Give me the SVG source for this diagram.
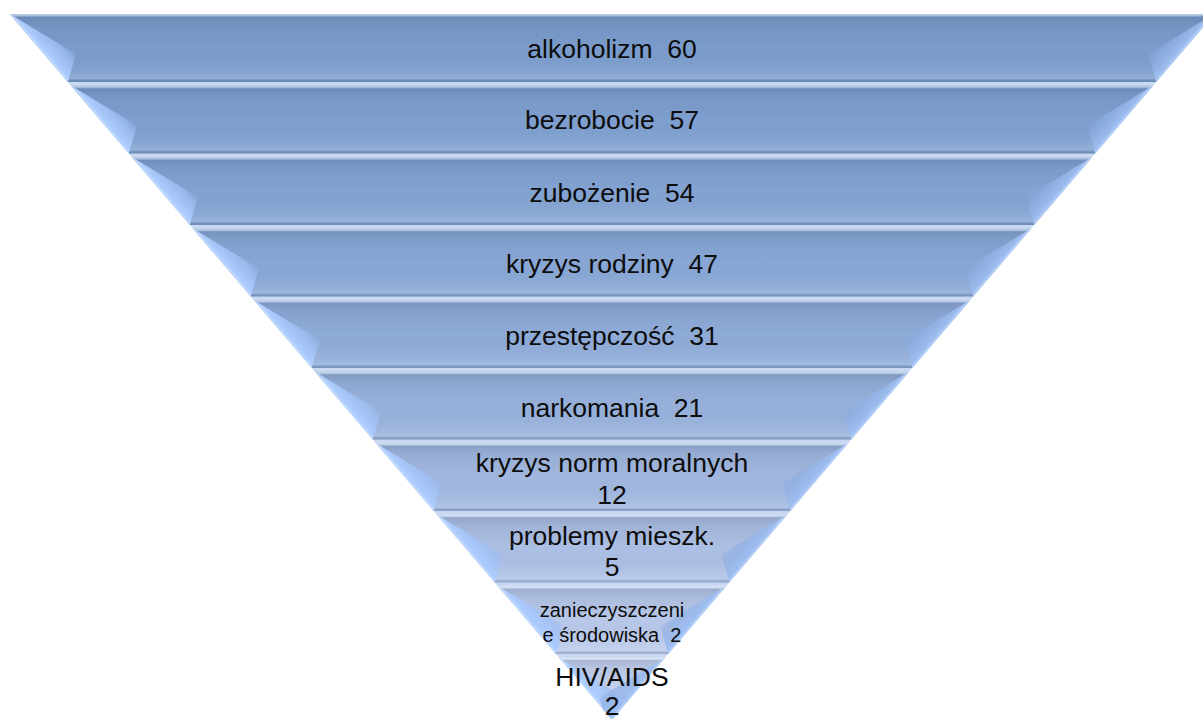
<svg xmlns="http://www.w3.org/2000/svg" xmlns:xlink="http://www.w3.org/1999/xlink" width="1203" height="719" viewBox="0 0 1203 719">
<style>
.lbl{font-family:"Liberation Sans",Arial,sans-serif;font-size:26.5px;fill:#0d0d0d;text-anchor:middle;white-space:pre}
.sm{font-size:20px}
</style>
<defs>
<linearGradient id="shade" x1="0" y1="0" x2="0" y2="1">
<stop offset="0" stop-color="#ffffff" stop-opacity="0.55"/>
<stop offset="0.03" stop-color="#ffffff" stop-opacity="0.25"/>
<stop offset="0.05" stop-color="#2a3a55" stop-opacity="0.18"/>
<stop offset="0.18" stop-color="#2a3a55" stop-opacity="0.08"/>
<stop offset="0.5" stop-color="#2a3a55" stop-opacity="0"/>
<stop offset="0.85" stop-color="#ffffff" stop-opacity="0.08"/>
<stop offset="0.95" stop-color="#ffffff" stop-opacity="0.18"/>
<stop offset="0.975" stop-color="#2a3a55" stop-opacity="0.15"/>
<stop offset="1" stop-color="#2a3a55" stop-opacity="0.2"/>
</linearGradient>
<linearGradient id="gL" gradientUnits="userSpaceOnUse" x1="38.8" y1="48" x2="57.4" y2="32.2">
<stop offset="0" stop-color="#c8e0ff" stop-opacity="1"/>
<stop offset="0.12" stop-color="#acccff" stop-opacity="1"/>
<stop offset="0.7" stop-color="#a0c0f4" stop-opacity="0.75"/>
<stop offset="1" stop-color="#98b8ec" stop-opacity="0.2"/>
</linearGradient>
<linearGradient id="gR" gradientUnits="userSpaceOnUse" x1="1185.2" y1="48" x2="1166.6" y2="32.2">
<stop offset="0" stop-color="#bcd6fc" stop-opacity="1"/>
<stop offset="0.12" stop-color="#9dbdf0" stop-opacity="0.95"/>
<stop offset="0.7" stop-color="#8eaee2" stop-opacity="0.65"/>
<stop offset="1" stop-color="#86a6da" stop-opacity="0.15"/>
</linearGradient>
<path id="facetL" d="M9.8,14 L76,54 L67.8,82 Z" fill="url(#gL)"/>
<path id="facetR" d="M1214.2,14 L1148.2,54 L1156.2,82 Z" fill="url(#gR)"/>
<polygon id="p1" points="9.8,14 1214.2,14 1156.2,82 67.8,82"/>
<polygon id="p2" points="70.8,85.5 1153.2,85.5 1095.2,153.5 128.8,153.5"/>
<polygon id="p3" points="131.8,157 1092.2,157 1034.2,225 189.8,225"/>
<polygon id="p4" points="192.8,228.5 1031.2,228.5 973.2,296.5 250.8,296.5"/>
<polygon id="p5" points="253.7,300 970.3,300 912.3,368 311.7,368"/>
<polygon id="p6" points="314.7,371.5 909.3,371.5 851.3,439.5 372.7,439.5"/>
<polygon id="p7" points="375.7,443 848.3,443 790.3,511 433.7,511"/>
<polygon id="p8" points="436.7,514.5 787.3,514.5 729.3,582.5 494.7,582.5"/>
<polygon id="p9" points="497.7,586 726.3,586 668.3,654 555.7,654"/>
<polygon id="p10" points="558.7,657.5 665.3,657.5 612,720"/>
<clipPath id="clip10"><polygon points="558.7,657.5 665.3,657.5 612,720"/></clipPath>
</defs>
<rect width="1203" height="719" fill="#ffffff"/>
<polygon points="9.8,14 1214.2,14 612,720" fill="#c9d9f1"/>

<g id="band1">
<use href="#p1" fill="#7b9ccc"/><use href="#p1" fill="url(#shade)"/>
<use href="#facetL"/><use href="#facetR"/>
<text class="lbl" x="612" y="58" xml:space="preserve">alkoholizm  60</text>
</g>
<g id="band2">
<use href="#p2" fill="#7e9fcf"/><use href="#p2" fill="url(#shade)"/>
<use href="#facetL" transform="translate(61,71.5)"/><use href="#facetR" transform="translate(-61,71.5)"/>
<text class="lbl" x="612" y="129" xml:space="preserve">bezrobocie  57</text>
</g>
<g id="band3">
<use href="#p3" fill="#83a3d2"/><use href="#p3" fill="url(#shade)"/>
<use href="#facetL" transform="translate(122,143)"/><use href="#facetR" transform="translate(-122,143)"/>
<text class="lbl" x="612" y="202" xml:space="preserve">zubożenie  54</text>
</g>
<g id="band4">
<use href="#p4" fill="#88a7d5"/><use href="#p4" fill="url(#shade)"/>
<use href="#facetL" transform="translate(183,214.5)"/><use href="#facetR" transform="translate(-183,214.5)"/>
<text class="lbl" x="612" y="273" xml:space="preserve">kryzys rodziny  47</text>
</g>
<g id="band5">
<use href="#p5" fill="#8fabd8"/><use href="#p5" fill="url(#shade)"/>
<use href="#facetL" transform="translate(243.9,286)"/><use href="#facetR" transform="translate(-243.9,286)"/>
<text class="lbl" x="612" y="345" xml:space="preserve">przestępczość  31</text>
</g>
<g id="band6">
<use href="#p6" fill="#97b1db"/><use href="#p6" fill="url(#shade)"/>
<use href="#facetL" transform="translate(304.9,357.5)"/><use href="#facetR" transform="translate(-304.9,357.5)"/>
<text class="lbl" x="612" y="417" xml:space="preserve">narkomania  21</text>
</g>
<g id="band7">
<use href="#p7" fill="#a1b7df"/><use href="#p7" fill="url(#shade)"/>
<use href="#facetL" transform="translate(365.9,429)"/><use href="#facetR" transform="translate(-365.9,429)"/>
<text class="lbl" x="612" y="472">kryzys norm moralnych</text>
<text class="lbl" x="612" y="504">12</text>
</g>
<g id="band8">
<use href="#p8" fill="#acbfe4"/><use href="#p8" fill="url(#shade)"/>
<use href="#facetL" transform="translate(426.9,500.5)"/><use href="#facetR" transform="translate(-426.9,500.5)"/>
<text class="lbl" x="612" y="545">problemy mieszk.</text>
<text class="lbl" x="612" y="576">5</text>
</g>
<g id="band9">
<use href="#p9" fill="#b8c8e9"/><use href="#p9" fill="url(#shade)"/>
<use href="#facetL" transform="translate(487.9,572)"/><use href="#facetR" transform="translate(-487.9,572)"/>
<text class="lbl sm" x="612" y="617">zanieczyszczeni</text>
<text class="lbl sm" x="612" y="642" xml:space="preserve">e środowiska  2</text>
</g>
<g id="band10">
<g clip-path="url(#clip10)">
<use href="#p10" fill="#c5d2ee"/><use href="#p10" fill="url(#shade)"/>
<use href="#facetL" transform="translate(548.9,643.5)"/><use href="#facetR" transform="translate(-548.9,643.5)"/>
</g>
<text class="lbl" x="612" y="686">HIV/AIDS</text>
<text class="lbl" x="612" y="715">2</text>
</g>
<g id="connectors"></g>
</svg>
